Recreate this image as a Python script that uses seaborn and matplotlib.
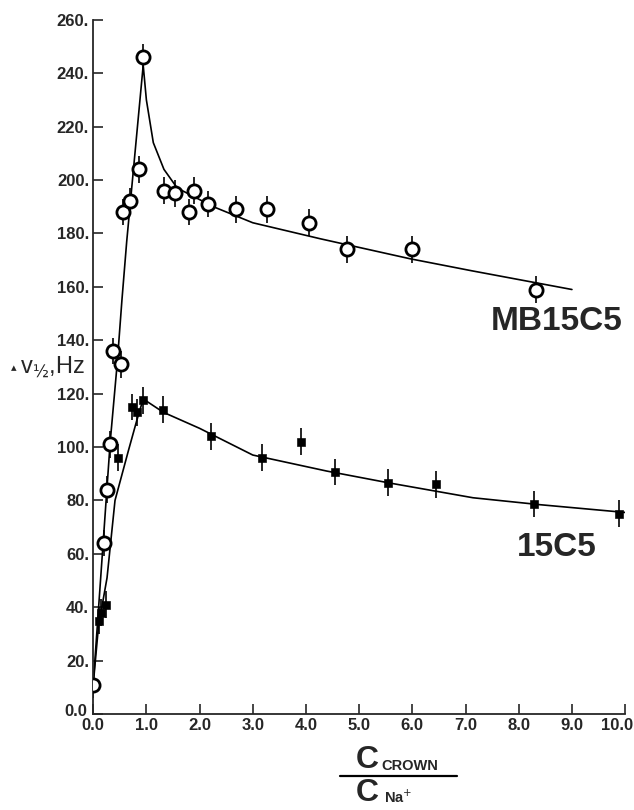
import matplotlib
matplotlib.use("Agg")
import matplotlib.pyplot as plt
import seaborn as sns
from matplotlib.lines import Line2D
from matplotlib.transforms import ScaledTranslation

# measured points, MB15C5 (open circles)
mb_x = [0.0, 0.21, 0.26, 0.32, 0.38, 0.52, 0.56, 0.70, 0.87, 0.94, 1.33, 1.54,
        1.80, 1.90, 2.16, 2.69, 3.27, 4.06, 4.77, 6.0, 8.33]
mb_y = [11, 64, 84, 101, 136, 131, 188, 192, 204, 246, 196, 195,
        188, 196, 191, 189, 189, 184, 174, 174, 159]

# measured points, 15C5 (filled squares)
c5_x = [0.0, 0.10, 0.15, 0.25, 0.47, 0.73, 0.83, 0.94, 1.32, 2.22, 3.18, 3.91,
        4.55, 5.55, 6.45, 8.29, 9.89]
c5_y = [11, 35, 38, 41, 96, 115, 113, 117.5, 114, 104, 96, 102,
        90.7, 86.6, 86, 78.7, 75]

# drawn fit curves
mb_fit_x = [0.0, 0.19, 0.32, 0.45, 0.54, 0.63, 0.94, 1.0, 1.13, 1.33, 1.58,
            2.26, 3.0, 4.27, 5.96, 7.12, 9.0]
mb_fit_y = [11, 65, 102, 131, 155, 177, 243, 230, 214, 204, 197,
            190, 184, 178, 170.5, 166, 159]
c5_fit_x = [0.0, 0.10, 0.26, 0.41, 0.66, 0.82, 0.94, 1.32, 2.0, 3.0, 4.39,
            5.55, 7.14, 8.4, 10.0]
c5_fit_y = [11, 33, 51, 80, 98.5, 110, 118, 113, 107, 97, 91,
            86.6, 81, 78.4, 75.5]

err = 5
x_ticks = [0, 1, 2, 3, 4, 5, 6, 7, 8, 9, 10]
y_ticks = [0, 20, 40, 60, 80, 100, 120, 140, 160, 180, 200, 220, 240, 260]

sns.set_style("ticks")
plt.rcParams["font.family"] = ["Liberation Sans", "DejaVu Sans"]

fig = plt.figure(figsize=(6.34, 8.10), dpi=100)
ax = fig.add_axes([0.147, 0.1185, 0.839, 0.857])

sns.lineplot(x=mb_fit_x, y=mb_fit_y, ax=ax, color="black", lw=1.2, sort=False)
sns.lineplot(x=c5_fit_x, y=c5_fit_y, ax=ax, color="black", lw=1.2, sort=False)

ax.vlines(mb_x, [v - err for v in mb_y], [v + err for v in mb_y],
          color="black", lw=1.2)
ax.vlines(c5_x, [v - err for v in c5_y], [v + err for v in c5_y],
          color="black", lw=1.2)

sns.scatterplot(x=c5_x, y=c5_y, ax=ax, marker="s", s=30, color="black",
                edgecolor="black", zorder=4)
sns.scatterplot(x=mb_x, y=mb_y, ax=ax, marker="o", s=90, facecolor="white",
                edgecolor="black", linewidth=2, zorder=5)

ax.set_xlim(0, 10)
ax.set_ylim(0, 260)
ax.set_xticks(x_ticks)
ax.set_xticklabels([f"{t}.0" for t in x_ticks])
ax.set_yticks(y_ticks)
ax.set_yticklabels(["0.0"] + [f"{t}." for t in y_ticks[1:]])
ax.tick_params(direction="in", length=7, width=1.2, labelsize=12, pad=3)
for lab in ax.get_xticklabels() + ax.get_yticklabels():
    lab.set_fontweight("bold")
last = ax.get_xticklabels()[-1]
last.set_ha("right")
last.set_transform(last.get_transform()
                   + ScaledTranslation(0.08, 0, fig.dpi_scale_trans))
zero = ax.get_yticklabels()[0]
zero.set_transform(zero.get_transform()
                   + ScaledTranslation(-0.02, 0.04, fig.dpi_scale_trans))
sns.despine(ax=ax)
for sp in ["left", "bottom"]:
    ax.spines[sp].set_linewidth(1.3)

ax.text(9.95, 147, "MB15C5", ha="right", va="center", fontsize=24,
        fontweight="bold")
ax.text(8.72, 62.5, "15C5", ha="center", va="center", fontsize=24,
        fontweight="bold")

fig.text(0.018, 0.546, "▴", fontsize=8, ha="left", va="center",
         family="DejaVu Sans")
fig.text(0.032, 0.546, r"v$_{½}$,Hz", fontsize=17, ha="left", va="center")

# x label as stacked fraction
fig.text(0.561, 0.052, "C", fontsize=23, fontweight="bold", ha="left",
         va="baseline")
fig.text(0.602, 0.050, "CROWN", fontsize=10.5, fontweight="bold", ha="left",
         va="baseline")
fig.add_artist(Line2D([0.536, 0.721], [0.042, 0.042], color="black", lw=1.6))
fig.text(0.561, 0.011, "C", fontsize=23, fontweight="bold", ha="left",
         va="baseline")
fig.text(0.605, 0.009, r"Na$^{+}$", fontsize=10.5, fontweight="bold", ha="left",
         va="baseline")

fig.savefig("out.png", dpi=100)
